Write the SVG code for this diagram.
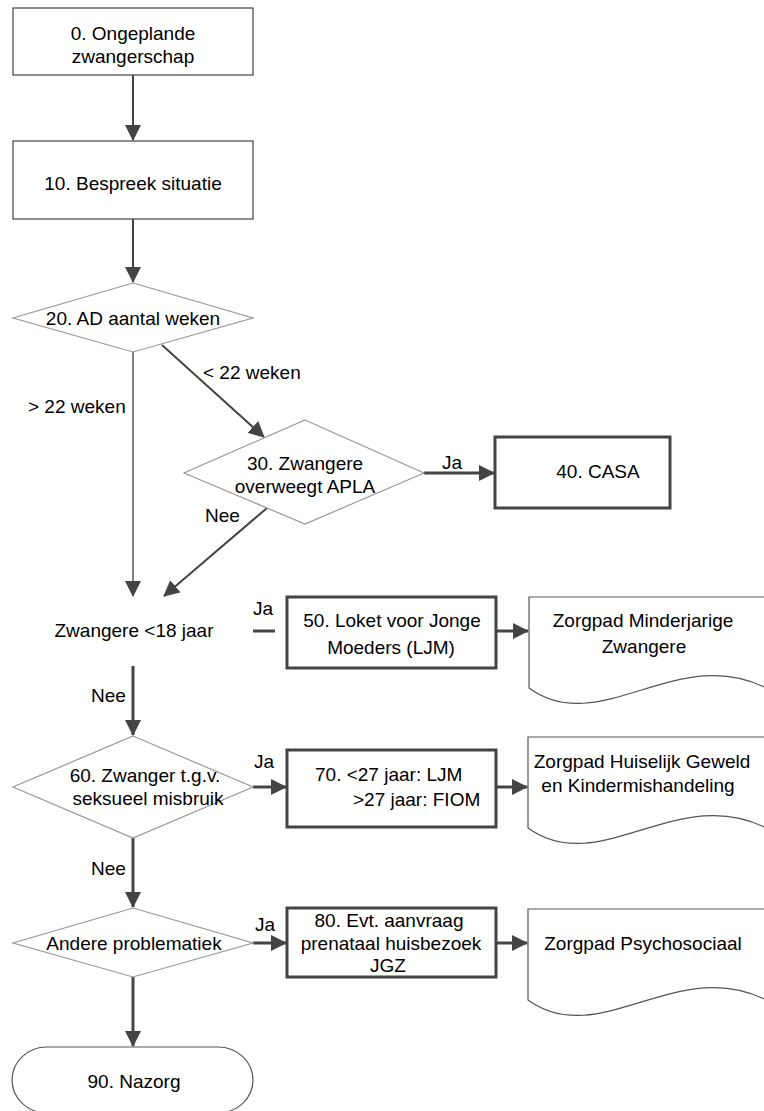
<svg xmlns="http://www.w3.org/2000/svg" width="764" height="1111" viewBox="0 0 764 1111">
<style>
text{font-family:"Liberation Sans",Arial,sans-serif;font-size:19px;fill:#000}
.c{text-anchor:middle}
.thin{fill:#fff;stroke:#444;stroke-width:1.2}
.thick{fill:#fff;stroke:#444;stroke-width:3}
.dia{fill:#fff;stroke:#999;stroke-width:1.2}
.doc{fill:#fff;stroke:#555;stroke-width:1.2}
.ln{fill:none;stroke:#444;stroke-width:2}
.lt{fill:none;stroke:#555;stroke-width:1.5}
.lk{fill:none;stroke:#444;stroke-width:3}
</style>
<defs>
<marker id="ah" markerUnits="userSpaceOnUse" viewBox="0 0 16 16" refX="15" refY="8" markerWidth="16" markerHeight="16" orient="auto">
<path d="M0,0 L16,8 L0,16 Z" fill="#444"/>
</marker>
</defs>
<g id="connectors">
<line class="ln" x1="133" y1="75" x2="133" y2="140" marker-end="url(#ah)"/>
<line class="ln" x1="133" y1="219" x2="133" y2="282" marker-end="url(#ah)"/>
<line class="lt" x1="133" y1="352" x2="133" y2="596" marker-end="url(#ah)"/>
<line class="ln" x1="162" y1="345" x2="264" y2="437" marker-end="url(#ah)"/>
<line class="lk" x1="424" y1="473" x2="494" y2="473" marker-end="url(#ah)"/>
<line class="ln" x1="267" y1="508" x2="164" y2="596" marker-end="url(#ah)"/>
<line class="lk" x1="253" y1="631" x2="275" y2="631"/>
<line class="lk" x1="496" y1="631" x2="528" y2="631" marker-end="url(#ah)"/>
<line class="lk" x1="133" y1="666" x2="133" y2="735" marker-end="url(#ah)"/>
<line class="lk" x1="253" y1="787" x2="286" y2="787" marker-end="url(#ah)"/>
<line class="lk" x1="496" y1="787" x2="527" y2="787" marker-end="url(#ah)"/>
<line class="lk" x1="133" y1="838" x2="133" y2="907" marker-end="url(#ah)"/>
<line class="lk" x1="253" y1="943" x2="286" y2="943" marker-end="url(#ah)"/>
<line class="lk" x1="496" y1="943" x2="527" y2="943" marker-end="url(#ah)"/>
<line class="lk" x1="133" y1="977" x2="133" y2="1046" marker-end="url(#ah)"/>
<text x="28" y="413">&gt; 22 weken</text>
<text x="203" y="379">&lt; 22 weken</text>
<text x="442" y="469">Ja</text>
<text x="205" y="522">Nee</text>
<text x="253" y="615">Ja</text>
<text x="91" y="702">Nee</text>
<text x="254" y="768">Ja</text>
<text x="91" y="875">Nee</text>
<text x="255" y="931">Ja</text>
</g>
<g id="n0">
<rect class="thin" x="13" y="8" width="240" height="67"/>
<text class="c" x="133" y="40">0. Ongeplande</text>
<text class="c" x="133" y="63">zwangerschap</text>
</g>
<g id="n10">
<rect class="thin" x="13" y="141" width="240" height="78"/>
<text class="c" x="133" y="190">10. Bespreek situatie</text>
</g>
<g id="n20">
<polygon class="dia" points="133,283 253,318 133,352 13,318"/>
<text class="c" x="133" y="325">20. AD aantal weken</text>
</g>
<g id="n30">
<polygon class="dia" points="305,420 424,473 305,524 184,473"/>
<text class="c" x="305" y="470">30. Zwangere</text>
<text class="c" x="305" y="493">overweegt APLA</text>
</g>
<g id="n40">
<rect class="thick" x="495" y="437" width="175" height="71"/>
<text class="c" x="598" y="478">40. CASA</text>
</g>
<g id="nZ18">
<text class="c" x="134" y="637">Zwangere &lt;18 jaar</text>
</g>
<g id="n50">
<rect class="thick" x="287" y="597" width="209" height="71"/>
<text class="c" x="392" y="627">50. Loket voor Jonge</text>
<text class="c" x="391" y="654">Moeders (LJM)</text>
</g>
<g id="d1">
<path class="doc" d="M529,597 H770 V690 C680,640 600,740 529,688 Z"/>
<text class="c" x="643" y="627">Zorgpad Minderjarige</text>
<text class="c" x="644" y="653">Zwangere</text>
</g>
<g id="n60">
<polygon class="dia" points="133,736 253,787 133,838 13,787"/>
<text class="c" x="145" y="782">60. Zwanger t.g.v.</text>
<text class="c" x="148" y="805">seksueel misbruik</text>
</g>
<g id="n70">
<rect class="thick" x="287" y="750" width="209" height="77"/>
<text x="315" y="781">70. &lt;27 jaar: LJM</text>
<text x="353" y="806">&gt;27 jaar: FIOM</text>
</g>
<g id="d2">
<path class="doc" d="M528,737 H770 V830 C680,780 600,880 528,828 Z"/>
<text class="c" x="642" y="768">Zorgpad Huiselijk Geweld</text>
<text class="c" x="638" y="792">en Kindermishandeling</text>
</g>
<g id="n_andere">
<polygon class="dia" points="133,908 253,943 133,977 13,943"/>
<text class="c" x="134" y="950">Andere problematiek</text>
</g>
<g id="n80">
<rect class="thick" x="287" y="908" width="209" height="69"/>
<text class="c" x="389" y="927">80. Evt. aanvraag</text>
<text class="c" x="391" y="950">prenataal huisbezoek</text>
<text class="c" x="388" y="972">JGZ</text>
</g>
<g id="d3">
<path class="doc" d="M528,909 H770 V1002 C680,952 600,1052 528,1000 Z"/>
<text class="c" x="643" y="950">Zorgpad Psychosociaal</text>
</g>
<g id="n90">
<rect class="doc" x="12" y="1047" width="241" height="66" rx="35" ry="33"/>
<text class="c" x="134" y="1088">90. Nazorg</text>
</g>
</svg>
